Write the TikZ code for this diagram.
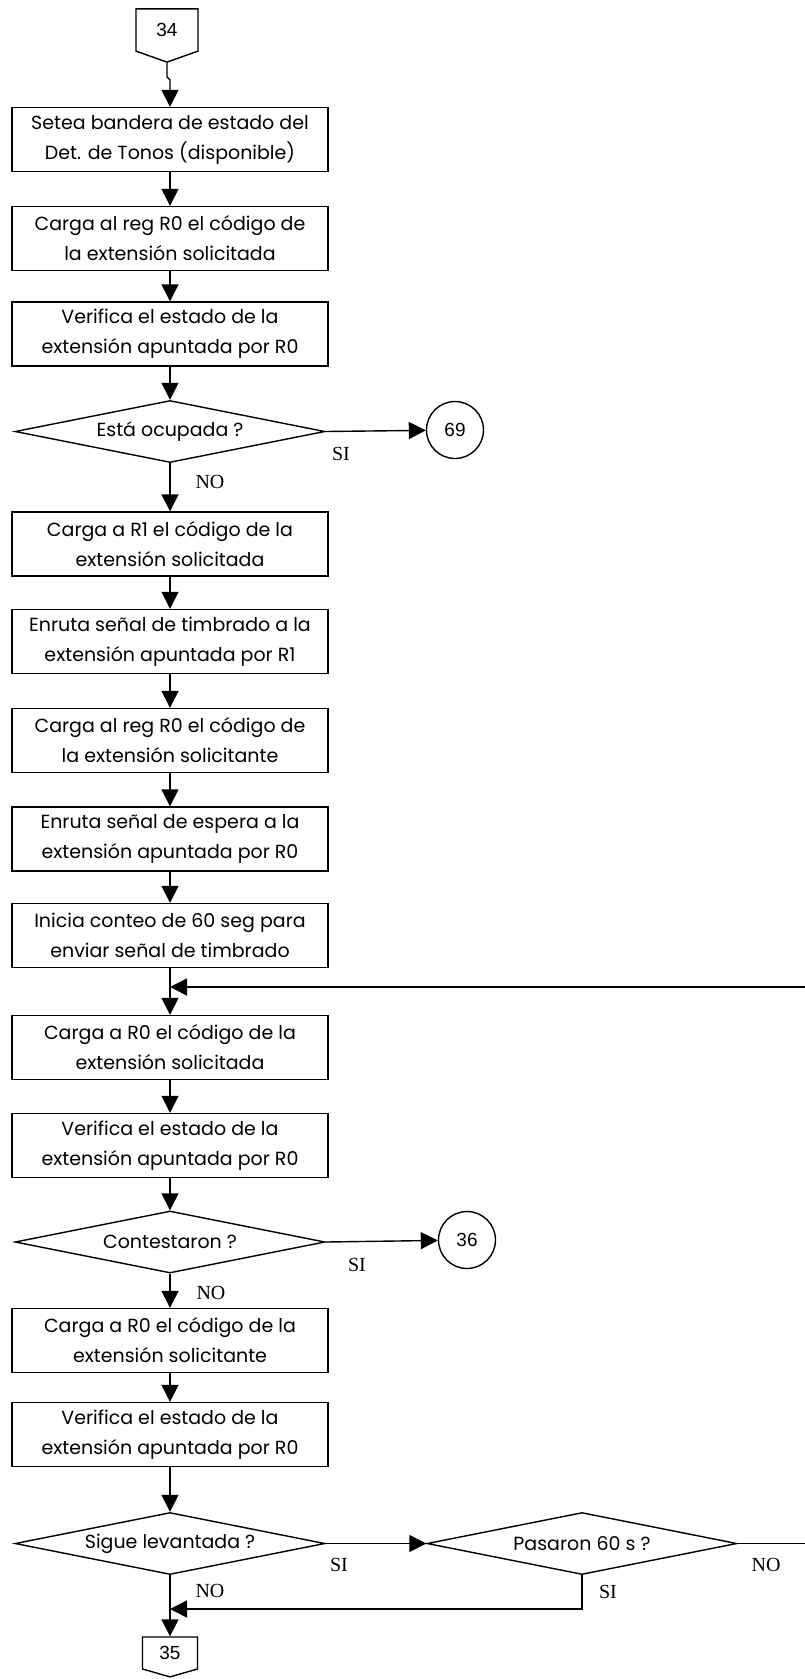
\documentclass[tikz,border=0pt]{standalone}
\usepackage{fontspec}
\setmainfont{Poppins}
\newfontfamily\numfont{Liberation Sans}
\newfontfamily\rotfont{Liberation Serif}
\usetikzlibrary{arrows.meta,shapes.geometric,shapes.symbols}

\begin{document}
\begin{tikzpicture}[x=1pt,y=-1pt,line width=1.4pt,
  caja/.style={draw,rectangle,minimum width=316pt,minimum height=64pt,align=center,inner sep=2pt,font=\fontsize{19}{30}\selectfont},
  rombo/.style={draw,diamond,aspect=5,minimum width=310pt,minimum height=62pt,inner sep=0pt,font=\fontsize{19}{22}\selectfont},
  conector/.style={draw,circle,minimum size=57pt,inner sep=0pt,font=\numfont\fontsize{19}{22}\selectfont},
  pagina/.style={draw,signal,signal to=south,signal from=nowhere,inner sep=0pt,font=\numfont\fontsize{19}{20}\selectfont},
  flecha/.style={-{Triangle[length=17pt,width=17pt]}},
  rotulo/.style={font=\rotfont\fontsize{20}{22}\selectfont}]
  \useasboundingbox (0,0) rectangle (805,1679);

  % conectores de pagina
  \draw(167,30) node[pagina,signal pointer angle=141,minimum width=62pt,minimum height=46pt] (c34) {34};
  \draw(170,1653) node[pagina,signal pointer angle=148,minimum width=55pt,minimum height=35pt] (c35) {35};

  % bloques de proceso
  \draw(170,139.5) node[caja] (b1) {Setea bandera de estado del\\Det. de Tonos (disponible)};
  \draw(170,238.5) node[caja] (b2) {Carga al reg R0 el código de\\la extensión solicitada};
  \draw(170,334) node[caja] (b3) {Verifica el estado de la\\extensión apuntada por R0};
  \draw(170,431.5) node[rombo] (d1) {Está ocupada ?};
  \draw(455,430) node[conector] (c69) {69};
  \draw(170,544) node[caja] (b4) {Carga a R1 el código de la\\extensión solicitada};
  \draw(170,641.5) node[caja] (b5) {Enruta señal de timbrado a la\\extensión apuntada por R1};
  \draw(170,740.5) node[caja] (b6) {Carga al reg R0 el código de\\la extensión solicitante};
  \draw(170,839) node[caja] (b7) {Enruta señal de espera a la\\extensión apuntada por R0};
  \draw(170,935.5) node[caja] (b8) {Inicia conteo de 60 seg para\\enviar señal de timbrado};
  \draw(170,1047.5) node[caja] (b9) {Carga a R0 el código de la\\extensión solicitada};
  \draw(170,1145.5) node[caja] (b10) {Verifica el estado de la\\extensión apuntada por R0};
  \draw(170,1242) node[rombo] (d2) {Contestaron ?};
  \draw(467,1240) node[conector] (c36) {36};
  \draw(170,1340.5) node[caja] (b11) {Carga a R0 el código de la\\extensión solicitante};
  \draw(170,1434.5) node[caja] (b12) {Verifica el estado de la\\extensión apuntada por R0};
  \draw(170,1543.5) node[rombo] (d3) {Sigue levantada ?};
  \draw(582,1543.5) node[rombo] (d4) {Pasaron 60 s ?};

  % puntos de union de los lazos
  \coordinate (j1) at (170,987);
  \coordinate (j2) at (170,1609);
  \coordinate (lz1) at (812,1543.5);
  \coordinate (lz2) at (812,987);

  % flujo principal
  \draw[flecha] (c34.south) -- ++(0,14) -- ++(3,3) -- (b1.north);
  \draw[flecha] (b1) -- (b2);
  \draw[flecha] (b2) -- (b3);
  \draw[flecha] (b3) -- (d1.north);
  \draw[flecha] (d1.east) -- (c69);
  \draw[flecha] (d1.south) -- (b4.north);
  \draw[flecha] (b4) -- (b5);
  \draw[flecha] (b5) -- (b6);
  \draw[flecha] (b6) -- (b7);
  \draw[flecha] (b7) -- (b8);
  \draw[flecha] (b8) -- (b9);
  \draw[flecha] (b9) -- (b10);
  \draw[flecha] (b10) -- (d2.north);
  \draw[flecha] (d2.east) -- (c36);
  \draw[flecha] (d2.south) -- (b11.north);
  \draw[flecha] (b11) -- (b12);
  \draw[flecha] (b12) -- (d3.north);
  \draw[flecha] (d3.east) -- (d4.west);
  \draw[flecha] (d3.south) -- (c35.north);
  \draw[flecha] (d4.south) |- (j2);
  \draw[flecha] (d4.east) -- (lz1) -- (lz2) -- (j1);

  % rotulos SI / NO
  \node[rotulo] (si1) at (341,454) {SI};
  \node[rotulo] (no1) at (210,482) {NO};
  \node[rotulo] (si2) at (357,1265) {SI};
  \node[rotulo] (no2) at (211,1293) {NO};
  \node[rotulo] (si3) at (339,1565) {SI};
  \node[rotulo] (no3) at (766,1565) {NO};
  \node[rotulo] (si4) at (608,1592) {SI};
  \node[rotulo] (no4) at (210,1591) {NO};
\end{tikzpicture}
\end{document}
